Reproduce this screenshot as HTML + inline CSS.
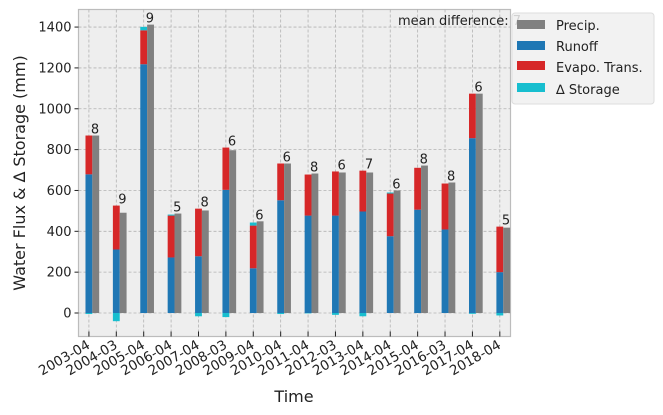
<!DOCTYPE html>
<html><head><meta charset="utf-8"><style>
body{margin:0;background:#fff}
svg{display:block;font-family:"DejaVu Sans","Liberation Sans",sans-serif}
</style></head><body>
<svg id="chart" width="663" height="415" xmlns="http://www.w3.org/2000/svg">
<rect x="78.5" y="9.5" width="432" height="327" fill="#eeeeee" stroke="#bcbcbc" stroke-width="1.2"/>
<g id="grid"></g>
<g id="bars"></g>
<g id="axes"></g>
<text x="521" y="25" font-size="13" text-anchor="end" fill="#222">mean difference: 7</text>
<g>
<rect x="512" y="13" width="142" height="91" rx="3" fill="#f0f0f0" fill-opacity="0.85" stroke="#dddddd"/>
<rect x="517" y="20" width="28" height="9" fill="#808080"/>
<text x="556" y="30" font-size="13" fill="#222">Precip.</text>
<rect x="517" y="41" width="28" height="9" fill="#1f77b4"/>
<text x="556" y="51" font-size="13" fill="#222">Runoff</text>
<rect x="517" y="61" width="28" height="9" fill="#d62728"/>
<text x="556" y="72" font-size="13" fill="#222">Evapo. Trans.</text>
<rect x="517" y="83" width="28" height="9" fill="#17becf"/>
<text x="556" y="94" font-size="13" fill="#222">∆ Storage</text>
</g>
<text x="294" y="402" font-size="16" text-anchor="middle" fill="#222">Time</text>
<text transform="translate(25,173) rotate(-90)" font-size="16" text-anchor="middle" fill="#222">Water Flux &amp; ∆ Storage (mm)</text>
</svg>
<script>
const categories=["2003-04","2004-03","2005-04","2006-04","2007-04","2008-03","2009-04","2010-04","2011-04","2012-03","2013-04","2014-04","2015-04","2016-03","2017-04","2018-04"];
const runoff=[679,311,1218,272,278,603,219,552,477,477,497,376,506,409,856,200];
const evapo=[190,215,166,205,233,207,209,180,201,216,200,209,205,225,218,223];
const storage=[-5,-40,17,5,-16,-20,15,-5,-2,-9,-16,5,0,0,-4,-12];
const precip=[869,491,1412,487,502,797,449,732,683,688,688,600,722,639,1074,418];
const diffLabels=["8","9","9","5","8","6","6","6","8","6","7","6","8","8","6","5"];
const yTicks=[0,200,400,600,800,1000,1200,1400];
const NS="http://www.w3.org/2000/svg";
const X0=78.5,X1=510.5,Y0=336.5,Y1=9.5;
const xmin=-0.38,xmax=15.39,ymin=-115,ymax=1486;
function xs(i){return X0+(i-xmin)/(xmax-xmin)*(X1-X0);}
function ys(v){return Y0-(v-ymin)/(ymax-ymin)*(Y0-Y1);}
const bw=0.25*(X1-X0)/(xmax-xmin);
function mk(tag,attrs,parent){const e=document.createElementNS(NS,tag);for(const k in attrs)e.setAttribute(k,attrs[k]);parent.appendChild(e);return e;}
const grid=document.getElementById('grid'),bars=document.getElementById('bars'),axes=document.getElementById('axes');
yTicks.forEach(t=>{
 const y=ys(t);
 const g=mk('line',{x1:X0,x2:X1,y1:y,y2:y,stroke:'#b2b2b2','stroke-dasharray':'3,2','stroke-width':0.8},grid);
 
 
 const tk=mk('line',{x1:X0-4,x2:X0,y1:y,y2:y,stroke:'#222'},axes);
 
 
 const tl=mk('text',{x:X0-7,y:y+4.5,'font-size':13,'text-anchor':'end',fill:'#222'},axes);
 tl.textContent=t;
 
 
});
function rect(x,v0,v1,w,fill,name){
 const a=ys(Math.max(v0,v1)),b=ys(Math.min(v0,v1));
 const r=mk('rect',{x:x,y:a,width:w,height:Math.max(0,b-a),fill:fill},bars);
 
 
}
categories.forEach((c,i)=>{
 const x=xs(i);
 const g=mk('line',{x1:x,x2:x,y1:Y1,y2:Y0,stroke:'#b2b2b2','stroke-dasharray':'3,2','stroke-width':0.8},grid);
 
 
 const l=x-bw/2;
 rect(l,0,runoff[i],bw,'#1f77b4','bar-runoff');
 rect(l,runoff[i],runoff[i]+evapo[i],bw,'#d62728','bar-evapo');
 if(storage[i]>=0) rect(l,runoff[i]+evapo[i],runoff[i]+evapo[i]+storage[i],bw,'#17becf','bar-storage');
 else rect(l,0,storage[i],bw,'#17becf','bar-storage');
 rect(x+bw/2,0,precip[i],bw,'#808080','bar-precip');
 const top=Math.max(precip[i],runoff[i]+evapo[i]+Math.max(0,storage[i]));
 const dl=mk('text',{x:x+2,y:ys(top)-2,'font-size':13,fill:'#222'},bars);
 dl.textContent=diffLabels[i];
 
 
 const tk=mk('line',{x1:x,x2:x,y1:Y0-5,y2:Y0,stroke:'#222'},axes);
 
 
 const tl=mk('text',{transform:`translate(${x+2},${Y0+11}) rotate(-30)`,'font-size':13.5,'text-anchor':'end',fill:'#222'},axes);
 tl.textContent=c;
 
 
});
</script>
</body></html>
